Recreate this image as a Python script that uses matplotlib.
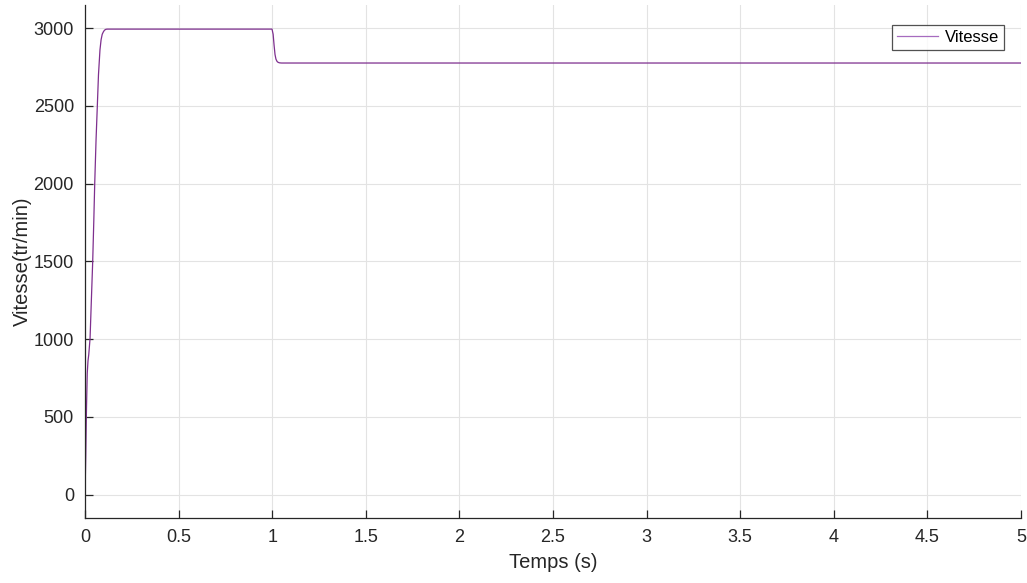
import matplotlib.pyplot as plt
import numpy as np

plt.rcParams['font.family'] = ['Liberation Sans', 'DejaVu Sans']

# speed response
t = [0.0, 0.004, 0.008, 0.012, 0.016, 0.020, 0.027, 0.034, 0.041, 0.047, 0.052, 0.059,
     0.066, 0.072, 0.080, 0.086, 0.092, 0.098, 0.104, 0.112, 0.120, 0.5, 0.999,
     1.005, 1.010, 1.015, 1.020, 1.026, 1.032, 1.040, 1.050, 1.070, 2.0, 3.0, 4.0, 5.0]
vitesse = [0, 250, 560, 780, 860, 900, 1004, 1250, 1494, 1760, 2003, 2280,
           2505, 2700, 2860, 2925, 2960, 2975, 2986, 2992, 2993, 2993, 2993,
           2960, 2890, 2830, 2800, 2785, 2779, 2776, 2775, 2775, 2775, 2775, 2775, 2775]

xticks = [0, 0.5, 1, 1.5, 2, 2.5, 3, 3.5, 4, 4.5, 5]
yticks = [0, 500, 1000, 1500, 2000, 2500, 3000]

fig = plt.figure(figsize=(10.27, 5.83), dpi=100)
ax = fig.add_axes([85/1027, 65/583, 936/1027, 513/583])

ax.plot(t, vitesse, color='#7E2F8E', lw=0.9, label='Vitesse')

ax.set_xlim(0, 5)
ax.set_ylim(-150, 3148)
ax.set_xticks(xticks)
ax.set_xticklabels([f'{v:g}' for v in xticks])
ax.set_yticks(yticks)

ax.grid(True, color='#e3e3e3', lw=0.8)
ax.set_axisbelow(True)
ax.spines['top'].set_visible(False)
ax.spines['right'].set_visible(False)
for s in ['left', 'bottom']:
    ax.spines[s].set_color('#262626')
    ax.spines[s].set_linewidth(0.9)
ax.tick_params(direction='in', length=6, width=0.9, colors='#262626',
               labelsize=13, pad=8)

ax.set_xlabel('Temps (s)', fontsize=14.5, color='#262626', labelpad=5)
ax.set_ylabel('Vitesse(tr/min)', fontsize=14.5, color='#262626', labelpad=1)

leg = ax.legend(loc='upper right', bbox_to_anchor=(0.982, 0.961), fontsize=12,
                frameon=True, fancybox=False, edgecolor='#262626',
                handlelength=2.5, borderpad=0.3, handletextpad=0.4,
                borderaxespad=0)
leg.get_frame().set_linewidth(0.9)
for line in leg.get_lines():
    line.set_color('#a66bbf')

fig.savefig('out.png', dpi=100)
